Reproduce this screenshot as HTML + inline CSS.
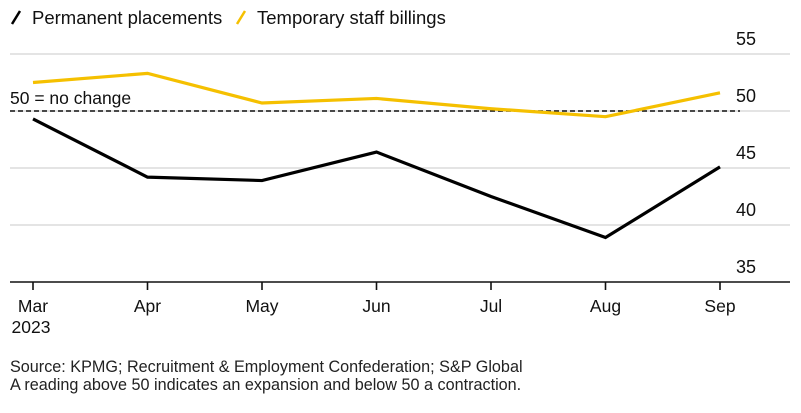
<!DOCTYPE html>
<html><head><meta charset="utf-8"><style>
body{margin:0;background:#fff;font-family:"Liberation Sans",Arial,sans-serif;}
svg{display:block}
</style></head><body>
<svg id="chart" width="801" height="413" xmlns="http://www.w3.org/2000/svg" font-family="Liberation Sans, Arial, sans-serif"></svg>
<script>
const categories=["Mar","Apr","May","Jun","Jul","Aug","Sep"];
const permanentPlacements=[49.3,44.2,43.9,46.4,42.5,38.9,45.1];
const temporaryBillings=[52.5,53.3,50.7,51.1,50.2,49.5,51.6];
const yTicks=[35,40,45,50,55];
const NS="http://www.w3.org/2000/svg";
const svg=document.getElementById('chart');
function x(i){return 33+i*(720-33)/(categories.length-1);}
function y(v){return 111-(v-50)*11.4;}
function el(tag,attrs,parent){const e=document.createElementNS(NS,tag);for(const k in attrs)e.setAttribute(k,attrs[k]);(parent||svg).appendChild(e);return e;}
yTicks.forEach(t=>{
  if(t>35){const g=el('line',{x1:10,x2:790,y1:y(t),y2:y(t),stroke:'#dcdcdc','stroke-width':1.5});
  
  }
  const tx=el('text',{x:756,y:y(t)-9,'text-anchor':'end','font-size':18,fill:'#111'});tx.textContent=t;
  
  
});
const ax=el('line',{x1:10,x2:790,y1:y(35),y2:y(35),stroke:'#111','stroke-width':1.5});


categories.forEach((c,i)=>{
  const tk=el('line',{x1:x(i),x2:x(i),y1:y(35),y2:y(35)+8,stroke:'#111','stroke-width':1.6});
  
  
  const t=el('text',{x:x(i),y:312,'text-anchor':'middle','font-size':17.5,fill:'#111'});t.textContent=c;
  
  
});
const yr=el('text',{x:31,y:333,'text-anchor':'middle','font-size':17.5,fill:'#111'});yr.textContent='2023';


const ref=el('line',{x1:10,x2:740,y1:y(50),y2:y(50),stroke:'#111','stroke-width':1.5,'stroke-dasharray':'5,3'});


const rl=el('text',{x:10,y:104,'font-size':17.5,fill:'#111'});rl.textContent='50 = no change';


function series(vals,color,name){
  const p=el('polyline',{points:vals.map((v,i)=>x(i)+','+y(v)).join(' '),fill:'none',stroke:color,'stroke-width':3.2,'stroke-linejoin':'miter'});
  
  
}
series(temporaryBillings,'#f5c000','temporary-staff-billings-line');
series(permanentPlacements,'#000','permanent-placements-line');
const l1=el('line',{x1:12,y1:24,x2:20,y2:11,stroke:'#000','stroke-width':2.5});


const lt1=el('text',{x:32,y:24,'font-size':18.5,fill:'#111'});lt1.textContent='Permanent placements';


const l2=el('line',{x1:237,y1:24,x2:245,y2:11,stroke:'#f5c000','stroke-width':2.5});


const lt2=el('text',{x:257,y:24,'font-size':18.5,fill:'#111'});lt2.textContent='Temporary staff billings';


const s1=el('text',{x:10,y:372,'font-size':16.2,fill:'#222'});s1.textContent='Source: KPMG; Recruitment & Employment Confederation; S&P Global';


const s2=el('text',{x:10,y:390,'font-size':16.2,fill:'#222'});s2.textContent='A reading above 50 indicates an expansion and below 50 a contraction.';


</script>
</body></html>
